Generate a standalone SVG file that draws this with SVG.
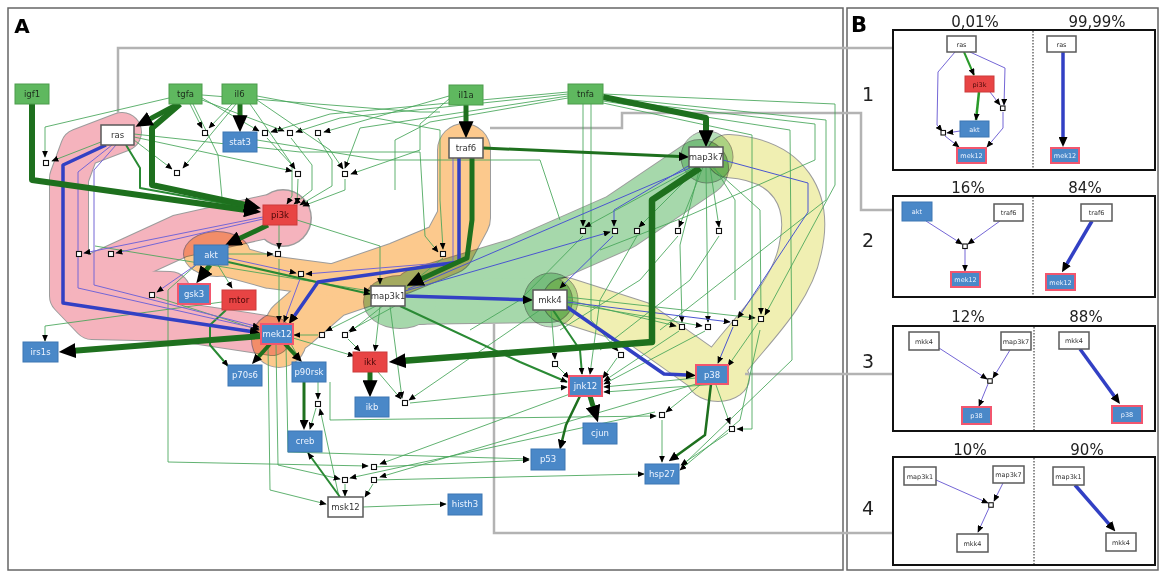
<svg xmlns="http://www.w3.org/2000/svg" width="1162" height="573" viewBox="0 0 1162 573">
<defs>
<style>
text{font-family:"DejaVu Sans","Liberation Sans",sans-serif;text-anchor:middle}
.nt{font-size:8.5px}
.bt{font-size:6.5px}
.gn rect{fill:#5fb85f;stroke:#4c9c4c;stroke-width:1}
.gn text{fill:#1c2e1c}
.bn rect{fill:#4a88c8;stroke:#3d77b3;stroke-width:1}
.bn text{fill:#eef4ff}
.rb rect{stroke:#f2566e;stroke-width:2}
.rn rect{fill:#e84444;stroke:#cc3a3a;stroke-width:1}
.rn text{fill:#4a0808}
.wn rect{fill:#fff;stroke:#5a5a5a;stroke-width:1.5}
.wn text{fill:#333}
.t{fill:none;stroke:#45a558;stroke-width:1;stroke-opacity:.85;stroke-linejoin:round}
.md{fill:none;stroke:#2a8a34;stroke-width:2;stroke-linejoin:round}
.k{fill:none;stroke:#1e701e;stroke-linejoin:round}
.bl{fill:none;stroke:#3240c4;stroke-width:3.5;stroke-linejoin:round}
.pt{fill:none;stroke:#7466d6;stroke-width:1;stroke-linejoin:round}
.bb{fill:none;stroke:#4a55d0;stroke-width:1;stroke-linejoin:round}
.gy{fill:none;stroke:#b3b3b3;stroke-width:2.5}
.j{fill:#fff;stroke:#111;stroke-width:1.1}
.blob{mix-blend-mode:multiply}
.ol{fill:none;stroke:#9c9c9c;stroke-linecap:round;stroke-linejoin:round}
.pk{fill:none;stroke:#f5b3bd;stroke-linecap:round;stroke-linejoin:round}
.og{fill:none;stroke:#fcc98d;stroke-linecap:round;stroke-linejoin:round}
.gr{fill:none;stroke:#a6d8ab;stroke-linecap:round;stroke-linejoin:round}
.yl{fill:none;stroke:#f0efb2;stroke-linecap:round;stroke-linejoin:round}
.pct{font-size:15px;fill:#222}
.num{font-size:19px;fill:#222}
.box{fill:#fff;stroke:#111;stroke-width:2}
.dv{stroke:#444;stroke-width:1.2;stroke-dasharray:1.5,1.5}
</style>
<marker id="s" viewBox="0 0 10 10" refX="9" refY="5" markerWidth="7" markerHeight="6" markerUnits="userSpaceOnUse" orient="auto" preserveAspectRatio="none"><path d="M0,0L10,5L0,10z" fill="#000"/></marker>
<marker id="m" viewBox="0 0 10 10" refX="1" refY="5" markerWidth="10" markerHeight="9" markerUnits="userSpaceOnUse" orient="auto" preserveAspectRatio="none"><path d="M0,0L10,5L0,10z" fill="#000"/></marker>
<marker id="l" viewBox="0 0 10 10" refX="1" refY="5" markerWidth="17" markerHeight="15" markerUnits="userSpaceOnUse" orient="auto" preserveAspectRatio="none"><path d="M0,0L10,5L0,10z" fill="#000"/></marker>
</defs>
<rect x="0" y="0" width="1162" height="573" fill="#fff"/>
<rect x="8" y="8" width="835" height="562" fill="none" stroke="#666" stroke-width="1.5"/>
<rect x="847" y="8" width="311" height="562" fill="none" stroke="#666" stroke-width="1.5"/>
<text x="22" y="33" style="font-size:20px;font-weight:bold;font-family:'DejaVu Sans',sans-serif">A</text>
<text x="859" y="32" style="font-size:21px;font-weight:bold;font-family:'DejaVu Sans',sans-serif">B</text>

<!-- blobs -->
<g id="blob-pink" class="blob">
<path class="ol" stroke-width="40" d="M122,132 L80,148 L69,178 L69,296 L92,320 L180,322 L272,336"/>
<path class="ol" stroke-width="44" d="M95,275 L180,236 L270,216"/>
<path class="ol" stroke-width="42" d="M90,290 L170,292"/>
<circle cx="283" cy="218" r="29" fill="#9c9c9c"/>
<path class="pk" stroke-width="38" d="M122,132 L80,148 L69,178 L69,296 L92,320 L180,322 L272,336"/>
<path class="pk" stroke-width="42" d="M95,275 L180,236 L270,216"/>
<path class="pk" stroke-width="40" d="M90,290 L170,292"/>
<circle cx="283" cy="218" r="27.5" fill="#f5b3bd"/>
</g>
<g id="blob-orange" class="blob">
<path class="ol" stroke-width="54" d="M464,150 L464,218 L448,248 L400,268 L330,292 L292,325"/>
<path class="ol" stroke-width="34" d="M212,256 L270,272 L345,282"/>
<ellipse cx="217" cy="254" rx="34" ry="23" fill="#9c9c9c"/>
<circle cx="279" cy="340" r="28" fill="#9c9c9c"/>
<path class="og" stroke-width="52" d="M464,150 L464,218 L448,248 L400,268 L330,292 L292,325"/>
<path class="og" stroke-width="32" d="M212,256 L270,272 L345,282"/>
<ellipse cx="217" cy="254" rx="33" ry="22" fill="#fcc98d"/>
<circle cx="279" cy="340" r="27" fill="#fcc98d"/>
</g>
<g id="blob-yellow" class="blob">
<path class="ol" stroke-width="44" d="M728,156 C790,160 812,200 800,250 C790,300 740,340 720,372"/>
<path class="ol" stroke-width="46" d="M565,300 L640,324 L705,370"/>
<ellipse cx="718" cy="378" rx="32" ry="24" fill="#9c9c9c"/>
<path class="yl" stroke-width="42" d="M728,156 C790,160 812,200 800,250 C790,300 740,340 720,372"/>
<path class="yl" stroke-width="44" d="M565,300 L640,324 L705,370"/>
<ellipse cx="718" cy="378" rx="31" ry="23" fill="#f0efb2"/>
</g>
<g id="blob-green" class="blob">
<path class="ol" stroke-width="58" d="M700,168 L620,222 L520,266 L420,296"/>
<path class="ol" stroke-width="46" d="M400,302 L550,300"/>
<ellipse cx="400" cy="302" rx="37" ry="27" fill="#9c9c9c"/>
<path class="gr" stroke-width="56" d="M700,168 L620,222 L520,266 L420,296"/>
<path class="gr" stroke-width="44" d="M400,302 L550,300"/>
<ellipse cx="400" cy="302" rx="36" ry="26" fill="#a6d8ab"/>
</g>
<g id="blob-green-nodes" class="blob">
<circle cx="707" cy="157" r="26" fill="#b7e0ba" stroke="#9c9c9c" stroke-width="1"/>
<circle cx="551" cy="300" r="27" fill="#b7e0ba" stroke="#9c9c9c" stroke-width="1"/>
</g>

<!-- gray links to panel B -->
<g id="links-AB">
<path class="gy" d="M118,113 V48 H893"/>
<path class="gy" d="M490,128 H622 V113 H861 V210 H893"/>
<path class="gy" d="M745,374 H893"/>
<path class="gy" d="M494,324 V533 H893"/>
</g>

<!-- connectors -->
<g id="connectors">
<!-- thin green -->
<path class="t" marker-end="url(#s)" d="M169,98 L45,127 L45,157"/>
<path class="t" marker-end="url(#s)" d="M101,142 L52,161"/>
<path class="t" marker-end="url(#s)" d="M190,104 L202,128"/>
<path class="t" marker-end="url(#s)" d="M232,104 L209,128"/>
<path class="t" marker-end="url(#s)" d="M134,140 L172,169"/>
<path class="t" marker-end="url(#s)" d="M236,104 L183,168"/>
<path class="t" marker-end="url(#s)" d="M202,98 L259,131"/>
<path class="t" marker-end="url(#s)" d="M202,100 L284,131"/>
<path class="t" marker-end="url(#s)" d="M568,92 L330,114 L271,132"/>
<path class="t" marker-end="url(#s)" d="M568,94 L340,118 L296,132"/>
<path class="t" marker-end="url(#s)" d="M449,96 L324,132"/>
<path class="t" d="M202,95 L420,112 L440,112"/>
<path class="t" d="M568,98 L430,122 L395,140 L395,190"/>
<path class="t" marker-end="url(#s)" d="M267,138 L292,165 L292,196 L287,204"/>
<path class="t" marker-end="url(#s)" d="M291,138 L312,165 L312,190 L294,204"/>
<path class="t" marker-end="url(#s)" d="M318,138 L332,160 L332,186 L300,205"/>
<path class="t" marker-end="url(#s)" d="M298,179 L297,204"/>
<path class="t" marker-end="url(#s)" d="M345,179 L345,190 L303,206"/>
<path class="t" marker-end="url(#s)" d="M134,137 L292,171"/>
<path class="t" marker-end="url(#s)" d="M250,104 L295,169"/>
<path class="t" marker-end="url(#s)" d="M257,100 L330,150 L343,169"/>
<path class="t" marker-end="url(#s)" d="M449,99 L420,124 L420,150 L351,174"/>
<path class="t" marker-end="url(#s)" d="M193,104 L218,155 L222,198 L258,207"/>
<path class="t" marker-end="url(#s)" d="M257,96 L440,130 L440,200 L443,249"/>
<path class="t" marker-end="url(#s)" d="M134,134 L300,152 L420,152 L425,236 L438,252"/>
<path class="t" marker-end="url(#s)" d="M568,96 L360,128 L345,168"/>
<path class="t" d="M257,140 L380,160 L540,160 L560,220"/>
<path class="t" marker-end="url(#s)" d="M297,220 L380,246 L380,284"/>
<path class="t" marker-end="url(#s)" d="M279,225 L279,249"/>
<path class="t" marker-end="url(#s)" d="M228,254 L273,254"/>
<path class="t" marker-end="url(#s)" d="M279,259 L279,322"/>
<path class="t" marker-end="url(#s)" d="M95,246 L370,291"/>
<path class="t" marker-end="url(#s)" d="M218,265 L232,288"/>
<path class="t" marker-end="url(#s)" d="M222,302 L45,326 L45,341"/>
<path class="t" marker-end="url(#s)" d="M156,297 L259,330"/>
<path class="t" marker-end="url(#s)" d="M443,258 L350,332"/>
<path class="t" marker-end="url(#s)" d="M376,306 L326,331"/>
<path class="t" marker-end="url(#s)" d="M395,306 L349,331"/>
<path class="t" marker-end="url(#s)" d="M318,335 L294,335"/>
<path class="t" marker-end="url(#s)" d="M348,339 L360,351"/>
<path class="t" marker-end="url(#s)" d="M293,338 L354,356"/>
<path class="t" marker-end="url(#s)" d="M380,306 L375,351"/>
<path class="t" marker-end="url(#s)" d="M390,306 L402,398"/>
<path class="t" marker-end="url(#s)" d="M551,310 L555,359"/>
<path class="t" marker-end="url(#s)" d="M567,300 L676,326"/>
<path class="t" marker-end="url(#s)" d="M567,303 L702,326"/>
<path class="t" marker-end="url(#s)" d="M567,297 L755,318"/>
<path class="t" marker-end="url(#s)" d="M540,310 L409,400"/>
<path class="t" marker-end="url(#s)" d="M558,367 L569,378"/>
<path class="t" marker-end="url(#s)" d="M617,358 L603,378"/>
<path class="t" marker-end="url(#s)" d="M679,331 L604,381"/>
<path class="t" marker-end="url(#s)" d="M705,331 L604,384"/>
<path class="t" marker-end="url(#s)" d="M758,323 L728,366"/>
<path class="t" marker-end="url(#s)" d="M696,378 L604,387"/>
<path class="t" marker-end="url(#s)" d="M720,384 L604,392"/>
<path class="t" marker-end="url(#s)" d="M695,167 L585,227"/>
<path class="t" marker-end="url(#s)" d="M699,167 L639,227"/>
<path class="t" marker-end="url(#s)" d="M703,167 L679,227"/>
<path class="t" marker-end="url(#s)" d="M710,167 L719,227"/>
<path class="t" marker-end="url(#s)" d="M700,167 L680,245 L682,322"/>
<path class="t" marker-end="url(#s)" d="M706,167 L708,322"/>
<path class="t" marker-end="url(#s)" d="M712,167 L760,210 L761,314"/>
<path class="t" d="M714,167 L735,200 L735,300"/>
<path class="t" marker-end="url(#s)" d="M583,104 L583,226"/>
<path class="t" marker-end="url(#s)" d="M591,104 L591,320 L618,351"/>
<path class="t" marker-end="url(#s)" d="M637,236 L600,300 L590,374"/>
<path class="t" d="M583,236 L520,300 L470,330"/>
<path class="t" d="M678,236 L640,280 L560,330"/>
<path class="t" d="M719,236 L690,280 L600,350"/>
<path class="t" marker-end="url(#s)" d="M603,94 L835,104 L835,185 L765,315"/>
<path class="t" d="M603,97 L826,120 L826,200 L660,330"/>
<path class="t" d="M603,99 L815,124 L815,160 L690,215 L600,250"/>
<path class="t" marker-end="url(#s)" d="M603,101 L790,130 L792,360 L682,466"/>
<path class="t" marker-end="url(#s)" d="M603,103 L752,135 L752,429 L737,429"/>
<path class="t" marker-end="url(#s)" d="M700,385 L666,412"/>
<path class="t" marker-end="url(#s)" d="M662,420 L662,462"/>
<path class="t" marker-end="url(#s)" d="M716,385 L730,424"/>
<path class="t" marker-end="url(#s)" d="M728,433 L681,465"/>
<path class="t" marker-end="url(#s)" d="M330,382 L330,420 L656,416"/>
<path class="t" marker-end="url(#s)" d="M378,372 L401,399"/>
<path class="t" marker-end="url(#s)" d="M410,403 L567,387"/>
<path class="t" marker-end="url(#s)" d="M196,265 L168,290 L168,462 L368,466"/>
<path class="t" marker-end="url(#s)" d="M374,467 L529,460"/>
<path class="t" marker-end="url(#s)" d="M374,480 L644,474"/>
<path class="t" marker-end="url(#s)" d="M696,384 L380,477"/>
<path class="t" marker-end="url(#s)" d="M570,394 L380,464"/>
<path class="t" marker-end="url(#s)" d="M655,412 L350,478"/>
<path class="t" marker-end="url(#s)" d="M345,484 L345,496"/>
<path class="t" marker-end="url(#s)" d="M373,484 L365,497"/>
<path class="t" marker-end="url(#s)" d="M363,507 L446,504"/>
<path class="t" marker-end="url(#s)" d="M339,497 L320,409"/>
<path class="t" marker-end="url(#s)" d="M318,382 L318,399"/>
<path class="t" marker-end="url(#s)" d="M316,408 L310,429"/>
<path class="t" marker-end="url(#s)" d="M268,344 L270,490 L326,504"/>
<path class="t" marker-end="url(#s)" d="M276,344 L278,465 L340,479"/>
<path class="t" marker-end="url(#s)" d="M286,344 L288,452 L529,459"/>
<path class="t" d="M291,344 L300,360"/>
<path class="t" marker-end="url(#s)" d="M760,330 L740,420 L680,470"/>
<!-- medium green -->
<path class="md" marker-end="url(#s)" d="M228,262 L370,294"/>
<path class="md" marker-end="url(#s)" d="M226,310 L210,325 L210,345 L228,366"/>
<path class="md" marker-end="url(#s)" d="M400,306 L520,362 L567,382"/>
<path class="md" marker-end="url(#s)" d="M553,310 L580,350 L582,374"/>
<path class="md" marker-end="url(#s)" d="M340,497 L308,453"/>
<path class="md" d="M126,145 L140,168 L140,188 L250,208"/>
<!-- thin blue / purple -->
<path class="pt" marker-end="url(#s)" d="M112,145 L78,172 L78,288 L259,329"/>
<path class="pt" marker-end="url(#s)" d="M116,145 L94,170 L94,285 L259,327"/>
<path class="pt" marker-end="url(#s)" d="M263,217 L84,253"/>
<path class="pt" marker-end="url(#s)" d="M263,219 L116,253"/>
<path class="pt" marker-end="url(#s)" d="M200,262 L157,292"/>
<path class="pt" marker-end="url(#s)" d="M453,158 L453,262 L306,274"/>
<path class="pt" marker-end="url(#s)" d="M228,258 L296,273"/>
<path class="pt" marker-end="url(#s)" d="M300,279 L284,322"/>
<path class="bb" marker-end="url(#s)" d="M567,302 L730,322"/>
<path class="bb" marker-end="url(#s)" d="M723,160 L808,183 L808,212 L738,318"/>
<path class="bb" marker-end="url(#s)" d="M733,327 L718,363"/>
<path class="bb" marker-end="url(#s)" d="M690,165 L614,210 L614,226"/>
<path class="bb" marker-end="url(#s)" d="M405,291 L610,232"/>
<path class="bb" marker-end="url(#s)" d="M613,236 L560,288"/>
<path class="bb" d="M690,168 L408,289"/>
<!-- thick blue -->
<path class="bl" marker-end="url(#m)" d="M106,145 L63,165 L63,303 L251,331.5"/>
<path class="bl" marker-end="url(#m)" d="M459,158 L459,262 L318,282 L294,316.5"/>
<path class="bl" marker-end="url(#m)" d="M405,296 L524,299.7"/>
<path class="bl" marker-end="url(#m)" d="M567,307 L664,374 L687,375"/>
<!-- thick green -->
<path class="k" stroke-width="6" marker-end="url(#l)" d="M32,104 L32,180 L246,210"/>
<path class="k" stroke-width="6" marker-end="url(#l)" d="M180,104 L152,128 L152,185 L246,205"/>
<path class="k" stroke-width="5" marker-end="url(#l)" d="M178,104 L149,119.5"/>
<path class="k" stroke-width="5" marker-end="url(#l)" d="M240,104 L240,117"/>
<path class="k" stroke-width="5" marker-end="url(#l)" d="M466,105 L466,123"/>
<path class="k" stroke-width="6" marker-end="url(#l)" d="M603,97 L706,118 L706,132"/>
<path class="k" stroke-width="3" marker-end="url(#m)" d="M483,148 L680,156.6"/>
<path class="k" stroke-width="5" marker-end="url(#l)" d="M472,158 L472,220 L467,258 L420.5,279.3"/>
<path class="k" stroke-width="6.5" marker-end="url(#l)" d="M700,168 L652,200 L652,342 L404,360.8"/>
<path class="k" stroke-width="5" marker-end="url(#l)" d="M370,372 L370,382"/>
<path class="k" stroke-width="5" marker-end="url(#l)" d="M268,225 L238.4,239.1"/>
<path class="k" stroke-width="5" marker-end="url(#l)" d="M210,265 L205.5,271"/>
<path class="k" stroke-width="6" marker-end="url(#l)" d="M261,336 L74,350.7"/>
<path class="k" stroke-width="4" marker-end="url(#m)" d="M270,344 L258,357.3"/>
<path class="k" stroke-width="4" marker-end="url(#m)" d="M285,344 L295.8,355.5"/>
<path class="k" stroke-width="3" marker-end="url(#m)" d="M304,382 L304,421"/>
<path class="k" stroke-width="5" marker-end="url(#l)" d="M590,396 L593.5,407.7"/>
<path class="k" stroke-width="2.5" marker-end="url(#m)" d="M580,396 L566,425 L562,441"/>
<path class="k" stroke-width="2.5" marker-end="url(#m)" d="M711,384 L705,435 L676,456"/>
</g>

<!-- junctions -->
<g id="junctions">
<rect class="j" x="43.5" y="160.5" width="5" height="5"/>
<rect class="j" x="202.5" y="130.5" width="5" height="5"/>
<rect class="j" x="174.5" y="170.5" width="5" height="5"/>
<rect class="j" x="262.5" y="130.5" width="5" height="5"/>
<rect class="j" x="287.5" y="130.5" width="5" height="5"/>
<rect class="j" x="315.5" y="130.5" width="5" height="5"/>
<rect class="j" x="295.5" y="171.5" width="5" height="5"/>
<rect class="j" x="342.5" y="171.5" width="5" height="5"/>
<rect class="j" x="76.5" y="251.5" width="5" height="5"/>
<rect class="j" x="108.5" y="251.5" width="5" height="5"/>
<rect class="j" x="275.5" y="251.5" width="5" height="5"/>
<rect class="j" x="298.5" y="271.5" width="5" height="5"/>
<rect class="j" x="149.5" y="292.5" width="5" height="5"/>
<rect class="j" x="319.5" y="332.5" width="5" height="5"/>
<rect class="j" x="342.5" y="332.5" width="5" height="5"/>
<rect class="j" x="440.5" y="251.5" width="5" height="5"/>
<rect class="j" x="580.5" y="228.5" width="5" height="5"/>
<rect class="j" x="612.5" y="228.5" width="5" height="5"/>
<rect class="j" x="634.5" y="228.5" width="5" height="5"/>
<rect class="j" x="675.5" y="228.5" width="5" height="5"/>
<rect class="j" x="716.5" y="228.5" width="5" height="5"/>
<rect class="j" x="679.5" y="324.5" width="5" height="5"/>
<rect class="j" x="705.5" y="324.5" width="5" height="5"/>
<rect class="j" x="732.5" y="320.5" width="5" height="5"/>
<rect class="j" x="758.5" y="316.5" width="5" height="5"/>
<rect class="j" x="618.5" y="352.5" width="5" height="5"/>
<rect class="j" x="552.5" y="361.5" width="5" height="5"/>
<rect class="j" x="402.5" y="400.5" width="5" height="5"/>
<rect class="j" x="315.5" y="401.5" width="5" height="5"/>
<rect class="j" x="659.5" y="412.5" width="5" height="5"/>
<rect class="j" x="729.5" y="426.5" width="5" height="5"/>
<rect class="j" x="371.5" y="464.5" width="5" height="5"/>
<rect class="j" x="342.5" y="477.5" width="5" height="5"/>
<rect class="j" x="371.5" y="477.5" width="5" height="5"/>
</g>

<!-- nodes panel A -->
<g id="igf1" class="gn"><rect x="15" y="84" width="34" height="20"/><text class="nt" x="32" y="97">igf1</text></g>
<g id="tgfa" class="gn"><rect x="169" y="84" width="33" height="20"/><text class="nt" x="185.5" y="97">tgfa</text></g>
<g id="il6" class="gn"><rect x="222" y="84" width="35" height="20"/><text class="nt" x="239.5" y="97">il6</text></g>
<g id="il1a" class="gn"><rect x="449" y="85" width="34" height="20"/><text class="nt" x="466" y="98">il1a</text></g>
<g id="tnfa" class="gn"><rect x="568" y="84" width="35" height="20"/><text class="nt" x="585.5" y="97">tnfa</text></g>
<g id="ras" class="wn"><rect x="101" y="125" width="33" height="20"/><text class="nt" x="117.5" y="138">ras</text></g>
<g id="stat3" class="bn"><rect x="223" y="132" width="34" height="20"/><text class="nt" x="240" y="145">stat3</text></g>
<g id="traf6" class="wn"><rect x="449" y="138" width="34" height="20"/><text class="nt" x="466" y="151">traf6</text></g>
<g id="map3k7" class="wn"><rect x="689" y="147" width="34" height="20"/><text class="nt" x="706" y="160">map3k7</text></g>
<g id="pi3k" class="rn"><rect x="263" y="205" width="34" height="20"/><text class="nt" x="280" y="218">pi3k</text></g>
<g id="akt" class="bn"><rect x="194" y="245" width="34" height="20"/><text class="nt" x="211" y="258">akt</text></g>
<g id="gsk3" class="bn rb"><rect x="178" y="284" width="32" height="20"/><text class="nt" x="194" y="297">gsk3</text></g>
<g id="mtor" class="rn"><rect x="222" y="290" width="34" height="20"/><text class="nt" x="239" y="303">mtor</text></g>
<g id="mek12" class="bn rb"><rect x="261" y="324" width="32" height="20"/><text class="nt" x="277" y="337">mek12</text></g>
<g id="irs1s" class="bn"><rect x="23" y="342" width="35" height="20"/><text class="nt" x="40.5" y="355">irs1s</text></g>
<g id="p70s6" class="bn"><rect x="228" y="365" width="34" height="21"/><text class="nt" x="245" y="378">p70s6</text></g>
<g id="p90rsk" class="bn"><rect x="292" y="362" width="34" height="20"/><text class="nt" x="309" y="375">p90rsk</text></g>
<g id="map3k1" class="wn"><rect x="371" y="286" width="34" height="20"/><text class="nt" x="388" y="299">map3k1</text></g>
<g id="mkk4" class="wn"><rect x="533" y="290" width="34" height="20"/><text class="nt" x="550" y="303">mkk4</text></g>
<g id="ikk" class="rn"><rect x="353" y="352" width="34" height="20"/><text class="nt" x="370" y="365">ikk</text></g>
<g id="ikb" class="bn"><rect x="355" y="397" width="34" height="20"/><text class="nt" x="372" y="410">ikb</text></g>
<g id="jnk12" class="bn rb"><rect x="569" y="376" width="33" height="20"/><text class="nt" x="585.5" y="389">jnk12</text></g>
<g id="p38" class="bn rb"><rect x="696" y="365" width="32" height="19"/><text class="nt" x="712" y="377.5">p38</text></g>
<g id="cjun" class="bn"><rect x="583" y="423" width="34" height="21"/><text class="nt" x="600" y="436">cjun</text></g>
<g id="p53" class="bn"><rect x="531" y="449" width="34" height="21"/><text class="nt" x="548" y="462">p53</text></g>
<g id="hsp27" class="bn"><rect x="645" y="464" width="34" height="20"/><text class="nt" x="662" y="477">hsp27</text></g>
<g id="creb" class="bn"><rect x="288" y="431" width="34" height="21"/><text class="nt" x="305" y="444">creb</text></g>
<g id="msk12" class="wn"><rect x="328" y="497" width="35" height="20"/><text class="nt" x="345.5" y="510">msk12</text></g>
<g id="histh3" class="bn"><rect x="448" y="494" width="34" height="21"/><text class="nt" x="465" y="507">histh3</text></g>

<!-- panel B -->
<g id="panelB-labels">
<text class="pct" x="975" y="27">0,01%</text>
<text class="pct" x="1097" y="27">99,99%</text>
<text class="pct" x="968" y="193">16%</text>
<text class="pct" x="1085" y="193">84%</text>
<text class="pct" x="968" y="322">12%</text>
<text class="pct" x="1086" y="322">88%</text>
<text class="pct" x="970" y="455">10%</text>
<text class="pct" x="1087" y="455">90%</text>
<text class="num" x="868" y="101">1</text>
<text class="num" x="868" y="247">2</text>
<text class="num" x="868" y="368">3</text>
<text class="num" x="868" y="515">4</text>
</g>
<g id="box1">
<rect class="box" x="893" y="30" width="262" height="140"/>
<line class="dv" x1="1033" y1="31" x2="1033" y2="169"/>
<path class="pt" marker-end="url(#s)" d="M955,52 L938,72 L937,125 L942,131"/>
<path class="pt" marker-end="url(#s)" d="M945,136 L959,147"/>
<path class="pt" marker-end="url(#s)" d="M960,131 L947,133"/>
<path class="pt" marker-end="url(#s)" d="M970,52 L1005,68 L1004,105"/>
<path class="pt" marker-end="url(#s)" d="M990,92 L1000,105"/>
<path class="pt" marker-end="url(#s)" d="M1003,112 L1003,128 L987,147"/>
<path fill="none" stroke="#2a9a2a" stroke-width="2" marker-end="url(#s)" d="M964,52 L974,75"/>
<path fill="none" stroke="#2a9a2a" stroke-width="2.5" marker-end="url(#s)" d="M979,92 L976,120"/>
<rect class="j" x="941" y="130.5" width="4.5" height="4.5"/>
<rect class="j" x="1000.5" y="106" width="4.5" height="4.5"/>
<g class="wn"><rect x="947" y="36" width="29" height="16"/><text class="bt" x="961.5" y="46.5">ras</text></g>
<g class="rn"><rect x="965" y="76" width="29" height="16"/><text class="bt" x="979.5" y="86.5">pi3k</text></g>
<g class="bn"><rect x="960" y="121" width="29" height="16"/><text class="bt" x="974.5" y="131.5">akt</text></g>
<g class="bn rb"><rect x="957" y="148" width="29" height="15"/><text class="bt" x="971.5" y="158">mek12</text></g>
<path class="bl" stroke-width="3" marker-end="url(#m)" d="M1063,52 L1063,138"/>
<g class="wn"><rect x="1047" y="36" width="29" height="16"/><text class="bt" x="1061.5" y="46.5">ras</text></g>
<g class="bn rb"><rect x="1051" y="148" width="28" height="15"/><text class="bt" x="1065" y="158">mek12</text></g>
</g>
<g id="box2">
<rect class="box" x="893" y="196" width="262" height="101"/>
<line class="dv" x1="1033" y1="197" x2="1033" y2="296"/>
<path class="pt" marker-end="url(#s)" d="M926,221 L962,244"/>
<path class="pt" marker-end="url(#s)" d="M1000,221 L968,244"/>
<path class="pt" marker-end="url(#s)" d="M965,249 L965,271"/>
<rect class="j" x="962.75" y="244" width="4.5" height="4.5"/>
<g class="bn"><rect x="902" y="202" width="30" height="19"/><text class="bt" x="917" y="214">akt</text></g>
<g class="wn"><rect x="994" y="204" width="29" height="17"/><text class="bt" x="1008.5" y="215">traf6</text></g>
<g class="bn rb"><rect x="951" y="272" width="29" height="15"/><text class="bt" x="965.5" y="282">mek12</text></g>
<path class="bl" stroke-width="3" marker-end="url(#m)" d="M1092,221 L1066.5,264.5"/>
<g class="wn"><rect x="1081" y="204" width="31" height="17"/><text class="bt" x="1096.5" y="215">traf6</text></g>
<g class="bn rb"><rect x="1046" y="274" width="29" height="16"/><text class="bt" x="1060.5" y="284.5">mek12</text></g>
</g>
<g id="box3">
<rect class="box" x="893" y="326" width="262" height="105"/>
<line class="dv" x1="1034" y1="327" x2="1034" y2="430"/>
<path class="pt" marker-end="url(#s)" d="M939,348 L987,379"/>
<path class="pt" marker-end="url(#s)" d="M1010,350 L993,378"/>
<path class="pt" marker-end="url(#s)" d="M988,384 L979,406"/>
<rect class="j" x="987.75" y="378.75" width="4.5" height="4.5"/>
<g class="wn"><rect x="909" y="332" width="30" height="18"/><text class="bt" x="924" y="343.5">mkk4</text></g>
<g class="wn"><rect x="1001" y="332" width="30" height="18"/><text class="bt" x="1016" y="343.5">map3k7</text></g>
<g class="bn rb"><rect x="962" y="407" width="29" height="17"/><text class="bt" x="976.5" y="418">p38</text></g>
<path class="bl" stroke-width="3" marker-end="url(#m)" d="M1080,349 L1114.7,396.7"/>
<g class="wn"><rect x="1059" y="332" width="30" height="17"/><text class="bt" x="1074" y="343">mkk4</text></g>
<g class="bn rb"><rect x="1112" y="406" width="30" height="17"/><text class="bt" x="1127" y="417">p38</text></g>
</g>
<g id="box4">
<rect class="box" x="893" y="457" width="262" height="108"/>
<line class="dv" x1="1034" y1="458" x2="1034" y2="564"/>
<path class="pt" marker-end="url(#s)" d="M936,480 L988,503"/>
<path class="pt" marker-end="url(#s)" d="M1003,483 L994,501"/>
<path class="pt" marker-end="url(#s)" d="M989,508 L978,532"/>
<rect class="j" x="988.75" y="502.75" width="4.5" height="4.5"/>
<g class="wn"><rect x="904" y="467" width="32" height="18"/><text class="bt" x="920" y="478.5">map3k1</text></g>
<g class="wn"><rect x="993" y="466" width="31" height="17"/><text class="bt" x="1008.5" y="477">map3k7</text></g>
<g class="wn"><rect x="957" y="534" width="31" height="18"/><text class="bt" x="972.5" y="545.5">mkk4</text></g>
<path class="bl" stroke-width="3" marker-end="url(#m)" d="M1075,485 L1109.5,524.6"/>
<g class="wn"><rect x="1053" y="467" width="31" height="18"/><text class="bt" x="1068.5" y="478.5">map3k1</text></g>
<g class="wn"><rect x="1106" y="533" width="30" height="18"/><text class="bt" x="1121" y="544.5">mkk4</text></g>
</g>
</svg>
